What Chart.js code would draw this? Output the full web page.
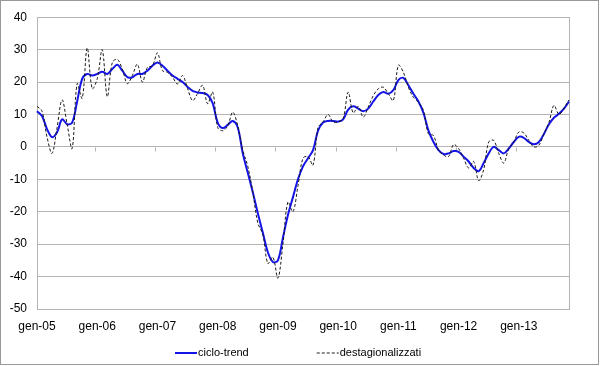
<!DOCTYPE html>
<html>
<head>
    <meta charset="utf-8">
    <title>Ciclo-trend e dati destagionalizzati</title>
    <script src="https://cdn.jsdelivr.net/npm/chart.js@4.4.1/dist/chart.umd.min.js"></script>
    <style>
        html, body { margin: 0; padding: 0; background: #fff; }
    </style>
</head>
<body>
    <canvas id="grafico" width="600" height="366"></canvas>

    <script>
        // Asse orizzontale: mesi da gen-05 a nov-13
        var mesi = ['gen', 'feb', 'mar', 'apr', 'mag', 'giu', 'lug', 'ago', 'set', 'ott', 'nov', 'dic'];
        var anni = ['05', '06', '07', '08', '09', '10', '11', '12', '13'];
        var numeroMesi = 107;

        // Serie (una riga per anno)
        var cicloTrend = [
            11, 9.5, 5.5, 3, 4.5, 8.5, 7, 7.5, 14, 21, 22.5, 22,
            22.5, 23.2, 22.5, 24, 25.3, 23.5, 21.5, 21.5, 22.5, 22.5, 23.5, 25,
            26, 25, 23.5, 22, 21, 20, 18.5, 17.3, 16.8, 16.6, 16, 13.5,
            7.5, 5.8, 6.8, 8, 6, -2, -8, -14, -20.5, -26.5, -32.5, -35.5,
            -35, -28, -21, -15.5, -10, -6, -3.5, -1, 5, 7.5, 8, 8,
            7.8, 8.5, 11.5, 12.5, 11.8, 11, 11.8, 14, 16, 16.9, 16.4, 17.5,
            20.6, 21.3, 19, 16.4, 14, 10.5, 5, 1.5, -1, -2.2, -2, -1.3,
            -1.5, -3, -4.5, -6.5, -7.5, -5, -2, 0, -1, -2, -0.5, 1.5,
            3.1, 2.8, 1.5, 0.8, 1.5, 4, 7, 9, 10.2, 11.8, 14
        ];
        var destagionalizzati = [
            12.5, 11, 3, -2, 6, 14.5, 7, -0.5, 19.5, 15, 30.5, 18,
            21, 30, 15.5, 26, 27, 24, 19.5, 22, 25.5, 20, 24.5, 25,
            29, 23.5, 23, 21.5, 19.4, 22, 18, 14.3, 16.5, 19, 13.3, 16.9,
            6, 5, 6.5, 10.7, 6.5, -1, -6, -14, -23.5, -27, -36, -34,
            -40.5, -30, -17, -20, -12, -3.5, -3, -5.6, 6, 7.7, 10, 7.7,
            7.7, 8.7, 16.9, 10.5, 12.5, 9.2, 12.3, 15.8, 17.9, 18.4, 16.4, 14.3,
            25.2, 23, 18.4, 15.3, 13.8, 11.2, 4, 3.5, -1, -2.5, -3, 0.7,
            -0.5, -3.5, -6.5, -4.5, -10.4, -7, 1.5, 2, -2, -5, -0.5, 1.5,
            4.6, 4.3, 2, 0, 0.5, 4, 7.5, 12.8, 10, 12, 14.5
        ];

        var yMin = -50, yMax = 40, yPasso = 10;

        // etichette mese-anno
        var etichette = [];
        for (var a = 0; a < anni.length; a++) {
            for (var m = 0; m < mesi.length; m++) {
                if (etichette.length < numeroMesi) etichette.push(mesi[m] + '-' + anni[a]);
            }
        }

        var fontBase = '"Liberation Sans", Arial, sans-serif';
        var grigio = '#b4b4b4';

        // cornice esterna, bordo dell'area del grafico e tacche sull'asse dello zero
        var cornice = {
            id: 'cornice',
            beforeDraw: function (chart) {
                var ctx = chart.ctx;
                ctx.save();
                ctx.fillStyle = '#fff';
                ctx.fillRect(0, 0, chart.width, chart.height);
                ctx.strokeStyle = '#999';
                ctx.lineWidth = 1;
                ctx.strokeRect(0.5, 0.5, chart.width - 2, chart.height - 2);
                ctx.restore();
            },
            beforeDatasetsDraw: function (chart) {
                var ctx = chart.ctx, area = chart.chartArea;
                var x = chart.scales.x, y = chart.scales.y;
                ctx.save();
                ctx.strokeStyle = grigio;
                ctx.lineWidth = 1;
                ctx.strokeRect(Math.round(area.left) + 0.5, Math.round(area.top) + 0.5,
                    Math.round(area.right - area.left), Math.round(area.bottom - area.top));
                var y0 = Math.round(y.getPixelForValue(0)) + 0.5;
                ctx.beginPath();
                for (var i = 11.5; i < numeroMesi; i += 12) {
                    var px = Math.round(x.getPixelForValue(i)) + 0.5;
                    ctx.moveTo(px, y0);
                    ctx.lineTo(px, y0 + 4);
                }
                ctx.stroke();
                ctx.restore();
            }
        };

        // legenda in basso, centrata
        var legenda = {
            id: 'legenda',
            afterDraw: function (chart) {
                var ctx = chart.ctx;
                var campione = 22, stacco = 1, spazio = 68, yLeg = 353;
                ctx.save();
                ctx.font = '11px ' + fontBase;
                ctx.textBaseline = 'middle';
                var ds = chart.data.datasets;
                var totale = 0;
                ds.forEach(function (d, i) {
                    totale += campione + stacco + ctx.measureText(d.label).width;
                    if (i > 0) totale += spazio;
                });
                var xCur = Math.round((chart.width - totale) / 2) - 2;
                ds.forEach(function (d) {
                    ctx.beginPath();
                    ctx.strokeStyle = d.borderColor;
                    ctx.lineWidth = d.borderWidth;
                    ctx.setLineDash(d.borderDash || []);
                    ctx.moveTo(xCur, yLeg);
                    ctx.lineTo(xCur + campione, yLeg);
                    ctx.stroke();
                    ctx.setLineDash([]);
                    ctx.fillStyle = '#000';
                    ctx.fillText(d.label, xCur + campione + stacco, yLeg);
                    xCur += campione + stacco + ctx.measureText(d.label).width + spazio;
                });
                ctx.restore();
            }
        };

        Chart.defaults.font.family = fontBase;
        Chart.defaults.color = '#000';

        var ctx = document.getElementById('grafico').getContext('2d');
        new Chart(ctx, {
            type: 'line',
            data: {
                labels: etichette,
                datasets: [{
                    label: 'ciclo-trend',
                    data: cicloTrend,
                    borderColor: '#1414e6',
                    borderWidth: 2,
                    pointRadius: 0,
                    tension: 0.35,
                    fill: false,
                    order: 1
                }, {
                    label: 'destagionalizzati',
                    data: destagionalizzati,
                    borderColor: '#1a1a1a',
                    borderWidth: 1,
                    borderDash: [3, 2],
                    pointRadius: 0,
                    tension: 0.35,
                    fill: false,
                    order: 0
                }]
            },
            options: {
                responsive: false,
                animation: false,
                devicePixelRatio: 1,
                layout: { padding: { left: 0, right: 31, top: 16, bottom: 0 } },
                plugins: {
                    legend: { display: false },
                    tooltip: { enabled: false }
                },
                scales: {
                    x: {
                        grid: { display: false },
                        border: { display: false },
                        ticks: {
                            autoSkip: false,
                            maxRotation: 0,
                            padding: 2,
                            font: { size: 12 },
                            callback: function (v, i) {
                                return i % 12 === 0 ? etichette[i] : '';
                            }
                        },
                        afterFit: function (scale) { scale.height = 57; }
                    },
                    y: {
                        min: yMin,
                        max: yMax,
                        grid: { color: grigio, drawTicks: false },
                        border: { display: false },
                        ticks: {
                            stepSize: yPasso,
                            padding: 10,
                            font: { size: 12 }
                        },
                        afterFit: function (scale) { scale.width = 37; }
                    }
                }
            },
            plugins: [cornice, legenda]
        });
    </script>
</body>
</html>
